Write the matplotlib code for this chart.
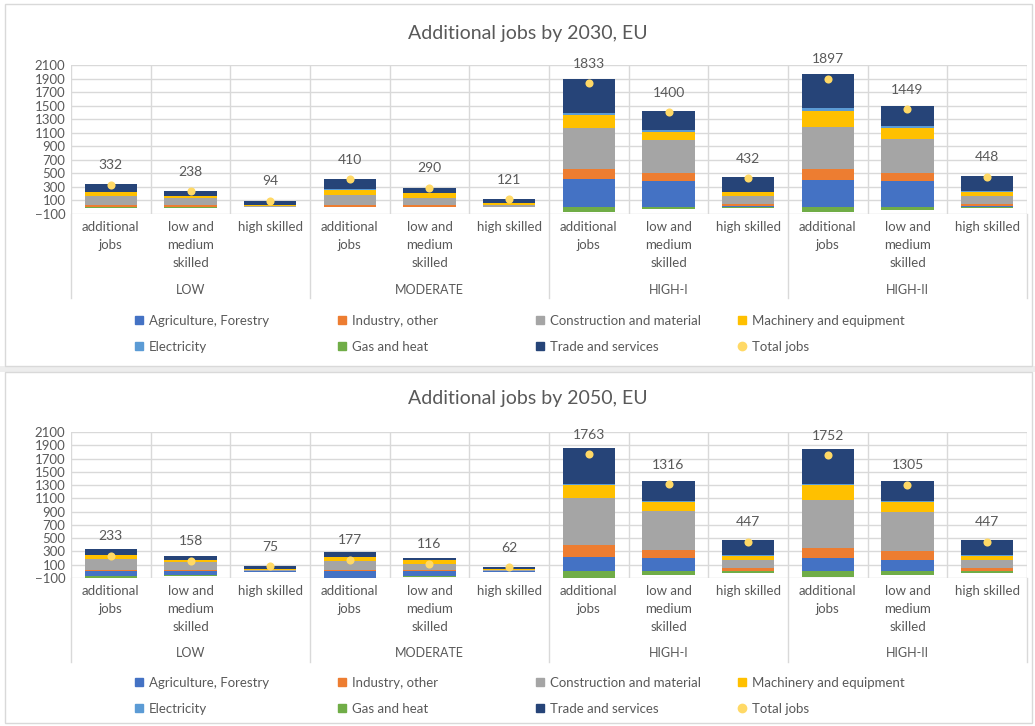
import numpy as np
import matplotlib
matplotlib.use("Agg")
import matplotlib.pyplot as plt
from matplotlib.lines import Line2D
from matplotlib.patches import Rectangle

# categories
groups = ["LOW", "MODERATE", "HIGH-I", "HIGH-II"]
subcats = ["additional\njobs", "low and\nmedium\nskilled", "high skilled"]
sectors = ["Agriculture, Forestry", "Industry, other", "Construction and material",
           "Machinery and equipment", "Electricity", "Gas and heat", "Trade and services"]
colors = ["#4472C4", "#ED7D31", "#A5A5A5", "#FFC000", "#5B9BD5", "#70AD47", "#264478"]
dot_color = "#FFD966"
txt = "#595959"
grid_c = "#D9D9D9"

# 2030 values (LOW x3, MODERATE x3, HIGH-I x3, HIGH-II x3)
agri_2030 = [3, 3, 2, 3, 2, 1, 416, 391, 15, 405, 391, 15]
ind_2030 = [30, 28, 5, 30, 25, 7, 152, 114, 40, 160, 114, 40]
constr_2030 = [135, 110, 15, 145, 115, 25, 601, 482, 112, 625, 507, 112]
mach_2030 = [50, 27, 17, 82, 61, 26, 196, 128, 55, 230, 162, 60]
elec_2030 = [2, 1, 1, 2, 1, 1, 25, 25, 10, 45, 20, 10]
gas_2030 = [-8, -5, -2, 0, 0, 0, -64, -25, -15, -66, -40, -15]
trade_2030 = [120, 74, 56, 148, 86, 61, 507, 285, 215, 498, 295, 226]
total_2030 = [332, 238, 94, 410, 290, 121, 1833, 1400, 432, 1897, 1449, 448]

# 2050 values
agri_2050 = [-75, -60, -5, -95, -76, -3, 223, 202, 7, 197, 177, 7]
ind_2050 = [25, 22, 5, 25, 20, 5, 167, 126, 40, 157, 137, 40]
constr_2050 = [157, 125, 15, 135, 95, 15, 708, 582, 130, 728, 582, 130]
mach_2050 = [60, 25, 15, 55, 55, 15, 197, 137, 60, 212, 152, 60]
elec_2050 = [2, 1, 1, 2, 1, 1, 15, 10, 10, 15, 10, 10]
gas_2050 = [-22, -6, -2, -16, -10, -2, -93, -50, -28, -88, -62, -28]
trade_2050 = [86, 51, 46, 71, 31, 31, 546, 309, 228, 531, 309, 228]
total_2050 = [233, 158, 75, 177, 116, 62, 1763, 1316, 447, 1752, 1305, 447]

W, H = 1035, 726
plt.rcParams["font.family"] = ["Lato", "DejaVu Sans"]


def fx(px):
    return px / W


def fy(py):
    return 1 - py / H


def draw_panel(fig, top, bottom, series, totals, title, title_y, sep_bottom, group_y, leg_y):
    ax = fig.add_axes([fx(71), fy(bottom), fx(1027) - fx(71), (bottom - top) / H])
    x = np.arange(len(totals))
    pos = np.zeros(len(totals))
    neg = np.zeros(len(totals))
    for vals, c in zip(series, colors):
        v = np.array(vals, dtype=float)
        base = np.where(v >= 0, pos, neg)
        ax.bar(x, v, 0.66, bottom=base, color=c, edgecolor="none", zorder=2)
        pos = pos + np.where(v >= 0, v, 0)
        neg = neg + np.where(v < 0, v, 0)
    ax.scatter(x, totals, s=34, color=dot_color, zorder=4, linewidths=0)
    for i, t in enumerate(totals):
        ax.annotate(str(t), (i, t), xytext=(0, 14), textcoords="offset points",
                    ha="center", va="center", fontsize=10, color=txt)

    ax.set_ylim(-100, 2100)
    ax.set_yticks(np.arange(-100, 2101, 200))
    ax.set_xlim(-0.5, len(totals) - 0.5)
    ax.set_xticks(x)
    ax.set_xticklabels(subcats * 4, fontsize=9.5, color=txt, linespacing=1.6, va="top")
    ax.set_xticks(np.arange(-0.5, len(totals), 1), minor=True)
    ax.tick_params(axis="x", which="both", length=0, pad=5)
    ax.tick_params(axis="y", length=0, labelsize=9.5, labelcolor=txt, pad=4)
    ax.grid(axis="y", color=grid_c, lw=1, zorder=0)
    ax.grid(axis="x", which="minor", color=grid_c, lw=1, zorder=0)
    for s in ax.spines.values():
        s.set_visible(False)

    tr = ax.get_xaxis_transform()
    sep_y = -(sep_bottom - bottom) / (bottom - top)
    for b in [-0.5, 2.5, 5.5, 8.5, 11.5]:
        ax.plot([b, b], [0, sep_y], transform=tr, color=grid_c, lw=1, clip_on=False)
    gy = -(group_y - bottom) / (bottom - top)
    for g, name in enumerate(groups):
        ax.text(g * 3 + 1, gy, name, transform=tr, ha="center", va="center",
                fontsize=9, color=txt)

    fig.text(fx(528), fy(title_y), title, ha="center", va="center", fontsize=14, color=txt)

    # legend, drawn as four columns of two rows
    handles = [Line2D([], [], marker="s", ls="none", color=c, markersize=6) for c in colors]
    handles.append(Line2D([], [], marker="o", ls="none", color=dot_color, markersize=6))
    names = sectors + ["Total jobs"]
    rows = [[0, 1, 2, 3], [4, 5, 6, 7]]
    for col, mx in enumerate([140, 343, 541, 743]):
        idx = [rows[0][col], rows[1][col]]
        fig.legend([handles[k] for k in idx], [names[k] for k in idx],
                   loc="center left", bbox_to_anchor=(fx(mx - 6), fy(leg_y)),
                   frameon=False, fontsize=9.5, labelcolor=txt, borderpad=0,
                   handlelength=0.8, handletextpad=0.35, labelspacing=1.05,
                   borderaxespad=0)
    return ax


fig = plt.figure(figsize=(W / 100, H / 100), dpi=100)
fig.add_artist(Rectangle((0, fy(372)), 1, fy(366) - fy(372), transform=fig.transFigure,
                         facecolor="#EDEDED", edgecolor="none"))
for t, b in [(4, 366), (372, 723)]:
    fig.add_artist(Rectangle((fx(5), fy(b)), fx(1032) - fx(5), (b - t) / H,
                             transform=fig.transFigure, facecolor="none",
                             edgecolor=grid_c, lw=1))

s2030 = [agri_2030, ind_2030, constr_2030, mach_2030, elec_2030, gas_2030, trade_2030]
s2050 = [agri_2050, ind_2050, constr_2050, mach_2050, elec_2050, gas_2050, trade_2050]
draw_panel(fig, 65, 214, s2030, total_2030, "Additional jobs by 2030, EU", 33, 298, 290, 334)
draw_panel(fig, 432, 578, s2050, total_2050, "Additional jobs by 2050, EU", 399, 662, 653, 696)

fig.savefig("out.png", dpi=100)
